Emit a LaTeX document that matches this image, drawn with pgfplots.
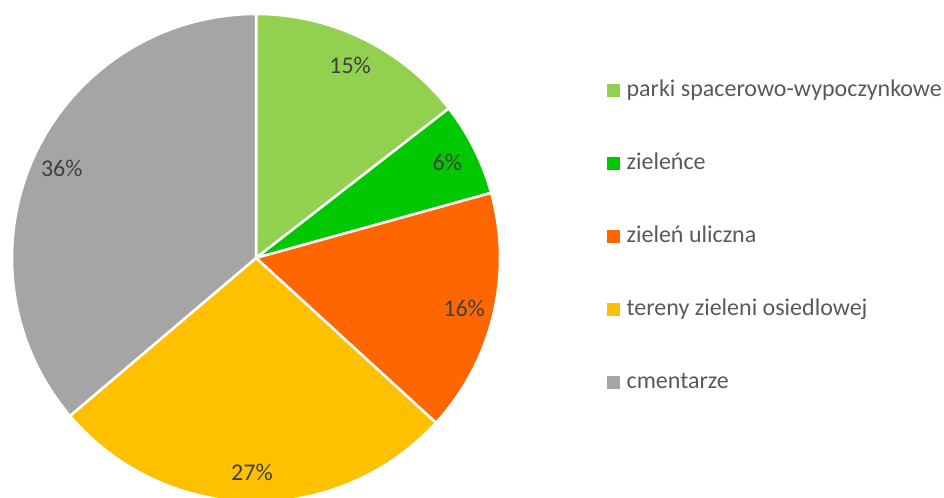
\documentclass[border=0pt]{standalone}
\usepackage{fontspec}
\setmainfont{Carlito}
\usepackage{pgfplots}
\pgfplotsset{compat=1.18}
\definecolor{cParki}{HTML}{92D050}
\definecolor{cZiel}{HTML}{00C800}
\definecolor{cUlic}{HTML}{FF6600}
\definecolor{cOsied}{HTML}{FFC000}
\definecolor{cCment}{HTML}{A5A5A5}
\definecolor{labgray}{HTML}{404040}
\definecolor{leggray}{HTML}{595959}
\newcommand{\pcx}{256}
\newcommand{\pcy}{240}
\begin{document}
\begin{tikzpicture}
\begin{axis}[
    width=944bp, height=498bp, scale only axis,
    xmin=0, xmax=944, ymin=0, ymax=498,
    hide axis, clip=false,
    legend cell align=left,
    legend image code/.code={\fill[#1] (0bp,-6bp) rectangle (12bp,6bp);},
    legend style={at={(axis cs:607,419)}, anchor=north west, draw=none, fill=none,
        inner sep=0pt, row sep=50bp,
        font=\fontsize{24bp}{28bp}\selectfont, text=leggray,
        nodes={inner sep=0pt, text height=17bp, text depth=6bp},
        /tikz/every odd column/.append style={column sep=7bp}},
]
\addlegendimage{cParki}\addlegendentry{parki spacerowo-wypoczynkowe}
\addlegendimage{cZiel}\addlegendentry{zieleńce}
\addlegendimage{cUlic}\addlegendentry{zieleń uliczna}
\addlegendimage{cOsied}\addlegendentry{tereny zieleni osiedlowej}
\addlegendimage{cCment}\addlegendentry{cmentarze}
\pgfplotsextra{
  \gdef\cur{90}
  \foreach \v/\col/\lab in {14.5/cParki/15\%, 6.2/cZiel/6\%, 16.1/cUlic/16\%,
                            27.0/cOsied/27\%, 36.2/cCment/36\%} {
    \pgfmathsetmacro\e{\cur-3.6*\v}
    \pgfmathsetmacro\m{(\cur+\e)/2}
    \filldraw[fill=\col, draw=white, line width=2.5bp, line join=round]
      (axis cs:\pcx,\pcy) -- ++(\cur:244bp) arc[start angle=\cur, end angle=\e, radius=244bp] -- cycle;
    \path (axis cs:\pcx,\pcy) ++(\m:214bp) node[text=labgray, font=\fontsize{24bp}{28bp}\selectfont] {\lab};
    \global\let\cur\e
  }
}
\end{axis}
\pgfresetboundingbox
\useasboundingbox (0,0) rectangle (944bp,498bp);
\end{tikzpicture}
\end{document}
